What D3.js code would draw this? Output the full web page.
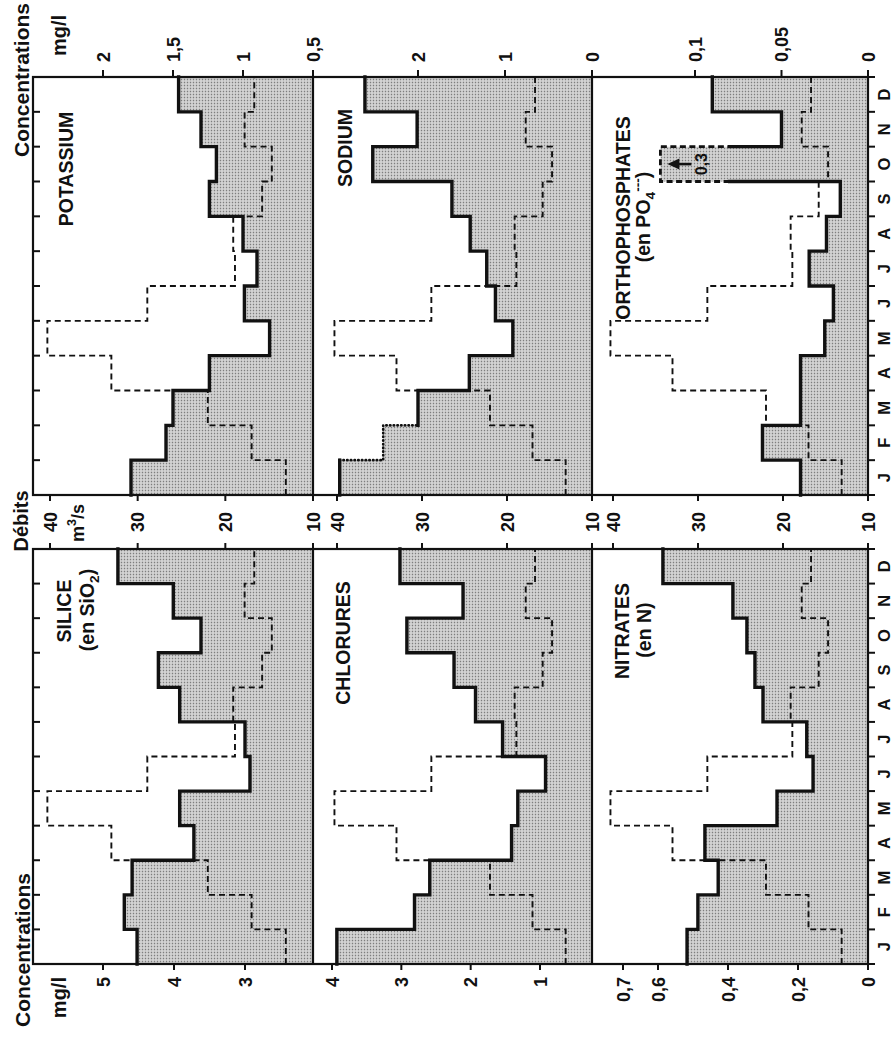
<!DOCTYPE html>
<html><head><meta charset="utf-8">
<script src="https://cdn.jsdelivr.net/npm/d3@7"></script>
<style>
body{margin:0;background:#fff}
svg{display:block}
text{font-family:"Liberation Sans",Arial,sans-serif;font-weight:bold;fill:#111}
</style>
</head><body>
<svg id="c" width="896" height="1041"></svg>
<script>
// ---------------- DATA ----------------
const months = ["J","F","M","A","M","J","J","A","S","O","N","D"];
const debits = [13.1,17.0,22.0,33.0,40.3,28.9,18.9,19.1,15.8,14.7,17.8,16.7];      // m3/s
const silice = [4.52,4.70,4.59,3.72,3.92,2.93,3.00,3.92,4.22,3.62,4.01,4.79];      // mg/l SiO2
const chlorures = [3.93,2.81,2.59,1.41,1.32,0.92,1.54,1.93,2.24,2.92,2.11,3.02];
const nitrates = [0.517,0.486,0.428,0.466,0.26,0.157,0.175,0.30,0.323,0.346,0.386,0.586];
const potassium = [1.80,1.55,1.50,1.24,0.81,0.99,0.90,1.00,1.24,1.19,1.30,1.46];
const sodium = [2.90,2.40,2.00,1.41,0.91,1.11,1.21,1.40,1.61,2.52,2.01,2.61];
const orthophosphates = [0.039,0.061,0.039,0.039,0.025,0.020,0.034,0.024,0.016,0.3,0.050,0.090];
const debitTicks = [10,20,30,40];
const siliceTicks = [3,4,5];
const chlorureTicks = [1,2,3,4];
const nitrateTicks = [0,0.2,0.4,0.6,0.7];
const potassiumTicks = [0.5,1,1.5,2];
const sodiumTicks = [0,1,2];
const orthoTicks = [0,0.05,0.1];
const orthoOffscaleLabel = "0,3";

// ---------------- LAYOUT (original, unrotated frame 1041 x 896) ----------------
const W0 = 1041;
const colX = [[77,492],[546,964]];
const rowY = [[33,313],[313,592],[592,868]];
const debit40 = [50,337,613];

const fmt = v => String(v).replace(".", ",");

const panels = [
  {values:silice, col:0,row:0, dom:[3,5], rng:[245,103], ticks:siliceTicks,
   titles:[{parts:"SILICE",x:430,y:71},{parts:[{t:"(en SiO"},{t:"2",sub:true},{t:")"}],x:431,y:94}]},
  {values:chlorures, col:0,row:1, dom:[1,4], rng:[540,332], ticks:chlorureTicks,
   titles:[{parts:"CHLORURES",x:398,y:350}]},
  {values:nitrates, col:0,row:2, dom:[0,0.6], rng:[868,658], ticks:nitrateTicks,
   titles:[{parts:"NITRATES",x:410,y:629},{parts:"(en N)",x:411,y:651}]},
  {values:potassium, col:1,row:0, dom:[0.5,2], rng:[313,103], ticks:potassiumTicks,
   titles:[{parts:"POTASSIUM",x:872,y:73}]},
  {values:sodium, col:1,row:1, dom:[0,2], rng:[592,418], ticks:sodiumTicks, dotted:[1],
   titles:[{parts:"SODIUM",x:893,y:352}]},
  {values:orthophosphates, col:1,row:2, dom:[0,0.1], rng:[868,695], ticks:orthoTicks,
   offscale:[9], cap:0.12, breakAt:0.08,
   titles:[{parts:"ORTHOPHOSPHATES",x:823,y:630},
           {parts:[{t:"(en PO"},{t:"4",sub:true},{t:"---",sup:true},{t:")"}],x:824,y:650}]}
];

// ---------------- DRAW ----------------
const svg = d3.select("#c");
const defs = svg.append("defs");
const pat = defs.append("pattern").attr("id","stip").attr("patternUnits","userSpaceOnUse")
  .attr("width",3).attr("height",3);
pat.append("rect").attr("width",3).attr("height",3).attr("fill","#d2d2d2");
pat.append("circle").attr("cx",1.5).attr("cy",1.5).attr("r",0.8).attr("fill","#7e7e7e");

const g = svg.append("g").attr("transform", `translate(0,${W0}) rotate(-90)`);

function addText(parent, parts, x, y, size, anchor){
  const t = parent.append("text").attr("x",x).attr("y",y).attr("font-size",size)
    .attr("text-anchor", anchor || "middle");
  if (typeof parts === "string"){ t.text(parts); return t; }
  let shift = 0;
  parts.forEach(p => {
    const s = t.append("tspan").text(p.t);
    const target = p.sub ? 5 : p.sup ? -8 : 0;
    if (target !== shift) s.attr("dy", target - shift);
    shift = target;
    if (p.sub || p.sup) s.attr("font-size", size*0.7);
  });
  return t;
}

function buildRuns(p, xs, ys){
  const v = p.values, n = v.length;
  const isOff = i => !!(p.offscale && p.offscale.includes(i));
  const isDot = i => !!(p.dotted && p.dotted.includes(i));
  const dv = i => isOff(i) ? p.cap : v[i];
  const segs = [];
  for (let i=0;i<n;i++){
    const yi = ys(dv(i));
    segs.push({a:[xs(i),yi], b:[xs(i+1),yi], style: isOff(i) ? "dash" : isDot(i) ? "dot" : "solid"});
    if (i<n-1){
      const xb = xs(i+1), yn = ys(dv(i+1));
      if (isOff(i) || isOff(i+1)){
        const yB = ys(p.breakAt);
        if (isOff(i)){ segs.push({a:[xb,yi],b:[xb,yB],style:"dash"}); segs.push({a:[xb,yB],b:[xb,yn],style:"solid"}); }
        else { segs.push({a:[xb,yi],b:[xb,yB],style:"solid"}); segs.push({a:[xb,yB],b:[xb,yn],style:"dash"}); }
      } else {
        segs.push({a:[xb,yi],b:[xb,yn],style:(isDot(i)||isDot(i+1)) ? "dot" : "solid"});
      }
    }
  }
  const runs = [];
  segs.forEach(s => {
    const last = runs[runs.length-1];
    if (last && last.style === s.style) last.pts.push(s.b);
    else runs.push({style:s.style, pts:[s.a, s.b]});
  });
  return {runs, dv};
}

const idx = d3.range(13);
const colScales = colX.map(r => d3.scaleLinear().domain([0,12]).range(r));
const debitScales = rowY.map((r,k) => d3.scaleLinear().domain([10,40]).range([r[1], debit40[k]]));

panels.forEach(p => {
  const xs = colScales[p.col];
  const ys = d3.scaleLinear().domain(p.dom).range(p.rng);
  const yd = debitScales[p.row];
  const base = rowY[p.row][1];
  const {runs, dv} = buildRuns(p, xs, ys);
  const val = i => dv(Math.min(i, 11));

  // fill
  g.append("path")
    .attr("d", d3.area().curve(d3.curveStepAfter).x(i => xs(i)).y0(base).y1(i => ys(val(i)))(idx))
    .attr("fill","url(#stip)");
  // debit dashed
  g.append("path")
    .attr("d", d3.line().curve(d3.curveStepAfter).x(i => xs(i)).y(i => yd(debits[Math.min(i,11)]))(idx))
    .attr("fill","none").attr("stroke","#111").attr("stroke-width",1.9).attr("stroke-dasharray","6,4");
  // concentration line
  runs.forEach(r => {
    const path = g.append("path").attr("d", d3.line()(r.pts)).attr("fill","none").attr("stroke","#111");
    if (r.style === "solid") path.attr("stroke-width",3.4).attr("stroke-linecap","square").attr("stroke-linejoin","miter");
    else if (r.style === "dot") path.attr("stroke-width",2.6).attr("stroke-dasharray","0.5,3.2").attr("stroke-linecap","round");
    else path.attr("stroke-width",2.8).attr("stroke-dasharray","6,3.5");
  });
  // off-scale arrow + label
  if (p.offscale){
    p.offscale.forEach(i => {
      const xc = xs(i+0.5);
      const yTop = ys(p.cap) + 7;
      g.append("line").attr("x1",xc).attr("x2",xc).attr("y1",yTop+9).attr("y2",yTop+24)
        .attr("stroke","#111").attr("stroke-width",2.6);
      g.append("path").attr("d", d3.line()([[xc,yTop],[xc-5.5,yTop+12],[xc+5.5,yTop+12]]) + "Z").attr("fill","#111");
      addText(g, orthoOffscaleLabel, xc, yTop+40, 16, "middle");
    });
  }
  // concentration axis ticks & labels
  p.ticks.forEach(t => {
    const y = ys(t);
    if (p.col === 0){
      g.append("line").attr("x1",colX[0][0]-6).attr("x2",colX[0][0]).attr("y1",y).attr("y2",y).attr("stroke","#111").attr("stroke-width",2);
      addText(g, fmt(t), 64, y+6.5, 18, "end");
    } else {
      g.append("line").attr("x1",colX[1][1]).attr("x2",colX[1][1]+7).attr("y1",y).attr("y2",y).attr("stroke","#111").attr("stroke-width",2);
      addText(g, fmt(t), 979, y+6.5, 18, "start");
    }
  });
  // titles
  p.titles.forEach(tt => addText(g, tt.parts, tt.x, tt.y, 19.5, "middle"));
});

// frames, dividers, month ticks & labels
colX.forEach((r, c) => {
  const xs = colScales[c];
  g.append("rect").attr("x",r[0]).attr("y",rowY[0][0]).attr("width",r[1]-r[0]).attr("height",rowY[2][1]-rowY[0][0])
    .attr("fill","none").attr("stroke","#111").attr("stroke-width",2.2);
  [rowY[0][1], rowY[1][1]].forEach(y => g.append("line").attr("x1",r[0]).attr("x2",r[1]).attr("y1",y).attr("y2",y)
    .attr("stroke","#111").attr("stroke-width",2.2));
  idx.forEach(i => {
    if (i>0 && i<12) g.append("line").attr("x1",xs(i)).attr("x2",xs(i)).attr("y1",rowY[0][0]).attr("y2",rowY[0][0]+7)
      .attr("stroke","#111").attr("stroke-width",2);
    g.append("line").attr("x1",xs(i)).attr("x2",xs(i)).attr("y1",rowY[2][1]).attr("y2",rowY[2][1]+7)
      .attr("stroke","#111").attr("stroke-width",2);
  });
  months.forEach((m,i) => addText(g, m, xs(i+0.5), 890, 16.5, "middle"));
});

// debit axis ticks & labels (between columns)
debitScales.forEach(yd => {
  debitTicks.forEach(t => {
    const y = yd(t);
    g.append("line").attr("x1",colX[0][1]).attr("x2",colX[0][1]+6).attr("y1",y).attr("y2",y).attr("stroke","#111").attr("stroke-width",2);
    g.append("line").attr("x1",colX[1][0]-6).attr("x2",colX[1][0]).attr("y1",y).attr("y2",y).attr("stroke","#111").attr("stroke-width",2);
    addText(g, String(t), 519, y+6.5, 18, "middle");
  });
});

// axis titles
addText(g, "Concentrations", 14, 30, 21, "start");
addText(g, "mg/l", 64, 66, 20, "end");
addText(g, "Concentrations", 1038, 29, 21, "end");
addText(g, "mg/l", 985, 66, 20, "start");
addText(g, "Débits", 520, 28, 20, "middle");
addText(g, [{t:"m"},{t:"3",sup:true},{t:"/s"}], 518, 84, 18, "middle");
</script>
</body></html>
